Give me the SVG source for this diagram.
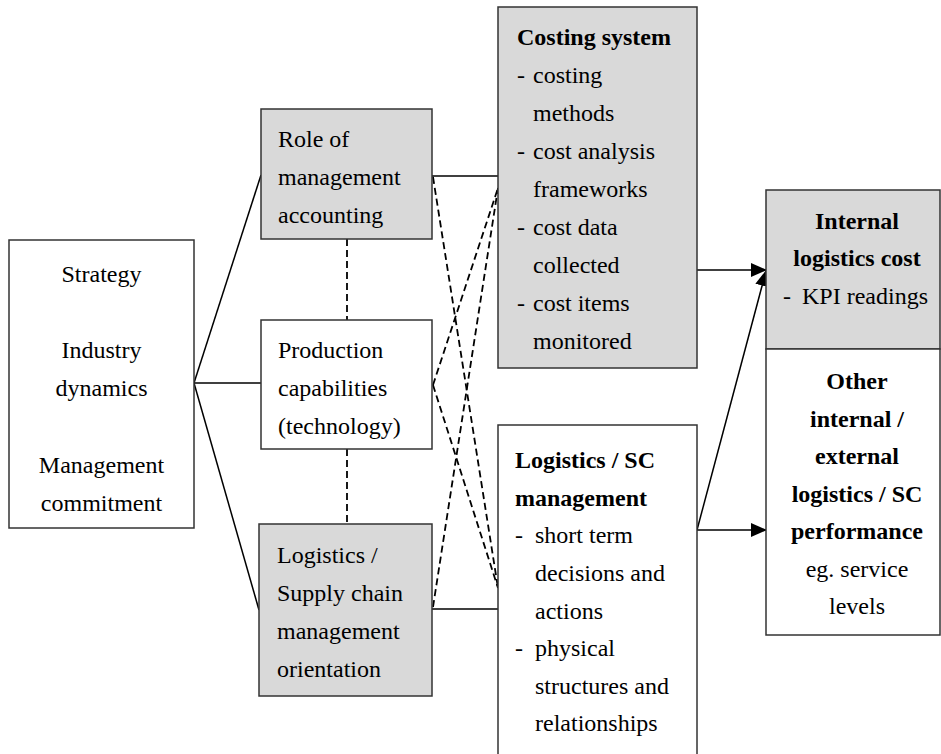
<svg xmlns="http://www.w3.org/2000/svg" width="941" height="754" viewBox="0 0 941 754">
<style>
.box{stroke:#333;stroke-width:1.5}
.g{fill:#d9d9d9}
.w{fill:#fff}
.t{font-family:"Liberation Serif","Times New Roman",serif;font-size:24px;fill:#000}
.b{font-weight:bold}
.c{text-anchor:middle}
.ln{stroke:#000;stroke-width:1.5;fill:none}
.d{stroke-dasharray:7 4;stroke-width:1.8}
</style>
<defs>
<marker id="ah" markerUnits="userSpaceOnUse" markerWidth="16" markerHeight="14" refX="15" refY="7" orient="auto">
<path d="M0,0 L16,7 L0,14 z" fill="#000"/>
</marker>
</defs>
<rect width="941" height="754" fill="#fff"/>
<g id="connectors">
<line class="ln" x1="194" y1="383" x2="261" y2="175"/>
<line class="ln" x1="194" y1="383" x2="261" y2="383"/>
<line class="ln" x1="194" y1="383" x2="259" y2="610"/>
<line class="ln d" x1="347" y1="239" x2="347" y2="320"/>
<line class="ln d" x1="347" y1="449" x2="347" y2="524"/>
<line class="ln" x1="432" y1="176" x2="498" y2="176"/>
<line class="ln" x1="432" y1="609" x2="498" y2="609"/>
<line class="ln d" x1="433" y1="177" x2="498" y2="588"/>
<line class="ln d" x1="433" y1="385" x2="498" y2="188"/>
<line class="ln d" x1="433" y1="385" x2="498" y2="588"/>
<line class="ln d" x1="433" y1="607" x2="498" y2="188"/>
<line class="ln" x1="697" y1="270" x2="766" y2="270" marker-end="url(#ah)"/>
<line class="ln" x1="697" y1="530" x2="766" y2="271" marker-end="url(#ah)"/>
<line class="ln" x1="697" y1="530" x2="766" y2="530" marker-end="url(#ah)"/>
</g>
<g id="drivers">
<rect class="box w" x="9" y="240" width="185" height="288"/>
<text class="t c" x="101.5" y="282">Strategy</text>
<text class="t c" x="101.5" y="358">Industry</text>
<text class="t c" x="101.5" y="396">dynamics</text>
<text class="t c" x="101.5" y="473">Management</text>
<text class="t c" x="101.5" y="511">commitment</text>
</g>
<g id="role">
<rect class="box g" x="261" y="109" width="171" height="130"/>
<text class="t" x="278" y="147">Role of</text>
<text class="t" x="278" y="185">management</text>
<text class="t" x="278" y="223">accounting</text>
</g>
<g id="production">
<rect class="box w" x="261" y="320" width="171" height="129"/>
<text class="t" x="278" y="358">Production</text>
<text class="t" x="278" y="396">capabilities</text>
<text class="t" x="278" y="434">(technology)</text>
</g>
<g id="orientation">
<rect class="box g" x="259" y="524" width="173" height="172"/>
<text class="t" x="277" y="563">Logistics /</text>
<text class="t" x="277" y="601">Supply chain</text>
<text class="t" x="277" y="639">management</text>
<text class="t" x="277" y="677">orientation</text>
</g>
<g id="costing">
<rect class="box g" x="498" y="7" width="199" height="361"/>
<text class="t b" x="517" y="45">Costing system</text>
<text class="t" x="517" y="83">-</text><text class="t" x="533" y="83">costing</text>
<text class="t" x="533" y="121">methods</text>
<text class="t" x="517" y="159">-</text><text class="t" x="533" y="159">cost analysis</text>
<text class="t" x="533" y="197">frameworks</text>
<text class="t" x="517" y="235">-</text><text class="t" x="533" y="235">cost data</text>
<text class="t" x="533" y="273">collected</text>
<text class="t" x="517" y="311">-</text><text class="t" x="533" y="311">cost items</text>
<text class="t" x="533" y="349">monitored</text>
</g>
<g id="scm">
<rect class="box w" x="498" y="425" width="199" height="340"/>
<text class="t b" x="515" y="468">Logistics / SC</text>
<text class="t b" x="515" y="506">management</text>
<text class="t" x="515" y="543">-</text><text class="t" x="535" y="543">short term</text>
<text class="t" x="535" y="581">decisions and</text>
<text class="t" x="535" y="619">actions</text>
<text class="t" x="515" y="656">-</text><text class="t" x="535" y="656">physical</text>
<text class="t" x="535" y="694">structures and</text>
<text class="t" x="535" y="731">relationships</text>
</g>
<g id="internal-cost">
<rect class="box g" x="766" y="190" width="174" height="159"/>
<text class="t b c" x="857" y="229">Internal</text>
<text class="t b c" x="857" y="266">logistics cost</text>
<text class="t" x="783" y="304">-</text><text class="t" x="802" y="304">KPI readings</text>
</g>
<g id="other-performance">
<rect class="box w" x="766" y="349" width="174" height="286"/>
<text class="t b c" x="857" y="389">Other</text>
<text class="t b c" x="857" y="427">internal /</text>
<text class="t b c" x="857" y="464">external</text>
<text class="t b c" x="857" y="502">logistics / SC</text>
<text class="t b c" x="857" y="539">performance</text>
<text class="t c" x="857" y="577">eg. service</text>
<text class="t c" x="857" y="614">levels</text>
</g>
</svg>
